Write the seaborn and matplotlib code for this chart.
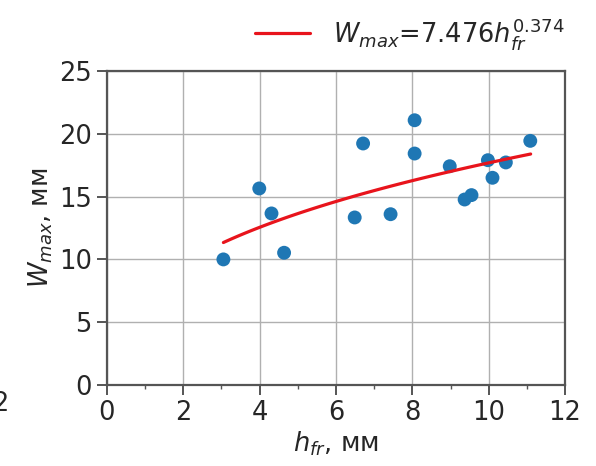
import numpy as np
import pandas as pd
import matplotlib
matplotlib.use("Agg")
import matplotlib.pyplot as plt
import seaborn as sns
from matplotlib.ticker import MultipleLocator

# Measured fracture heights and maximum widths
h_fr = [3.05, 3.99, 4.31, 4.64, 6.49, 6.71, 7.43, 8.06, 8.06, 8.98,
        9.37, 9.55, 9.98, 10.10, 10.45, 11.09]
w_max = [10.0, 15.65, 13.66, 10.53, 13.34, 19.23, 13.6, 21.08, 18.43, 17.42,
         14.77, 15.12, 17.9, 16.5, 17.72, 19.44]

# Power-law fit coefficients
coef_a = 7.476
coef_b = 0.374
fit_range = [3.05, 11.1]

sns.set_theme(style="ticks")
plt.rcParams["font.family"] = ["DejaVu Sans"]
plt.rcParams["mathtext.fontset"] = "dejavusans"

FS = 18.5

df = pd.DataFrame({"h": h_fr, "w": w_max})
hx = np.linspace(fit_range[0], fit_range[1], 100)
fit_df = pd.DataFrame({"h": hx, "w": coef_a * hx ** coef_b})

fig = plt.figure(figsize=(5.96, 4.66), dpi=100)
ax = fig.add_axes([0.1795, 0.1738, 0.7685, 0.6738])

sns.scatterplot(data=df, x="h", y="w", ax=ax, color="#1f77b4", s=100,
                edgecolor="none", zorder=3)
sns.lineplot(data=fit_df, x="h", y="w", ax=ax, color="#e8141c", lw=2.3,
             label=r"$W_{max}$=7.476$h_{fr}^{0.374}$", zorder=4)

ax.set_xlim(0, 12)
ax.set_ylim(0, 25)
ax.set_xticks(range(0, 13, 2))
ax.set_yticks(range(0, 26, 5))
ax.xaxis.set_minor_locator(MultipleLocator(1))
ax.grid(True, which="major", color="#b0b0b0", lw=1.0)
ax.set_axisbelow(True)
for sp in ax.spines.values():
    sp.set_color("#555555")
    sp.set_linewidth(1.6)
ax.tick_params(axis="both", which="major", labelsize=FS, length=7, width=1.4,
               color="#555555", labelcolor="#262626", pad=4)
ax.tick_params(axis="x", which="minor", length=3, width=1.0, color="#555555")

ax.set_xlabel(r"$h_{fr}$, мм", fontsize=FS, color="#262626", labelpad=2)
ax.set_ylabel(r"$W_{max}$, мм", fontsize=FS, color="#262626", labelpad=3)

leg = ax.legend(loc="center right", bbox_to_anchor=(1.0, 1.118), frameon=False,
                fontsize=FS, handlelength=2.15, handletextpad=0.9,
                borderaxespad=0, borderpad=0)

# fragment of a neighbouring tick label at the left edge
fig.text(0.0, 0.133, "2", fontsize=FS, color="#262626", ha="center", va="center")

fig.savefig("out.png", dpi=100)
